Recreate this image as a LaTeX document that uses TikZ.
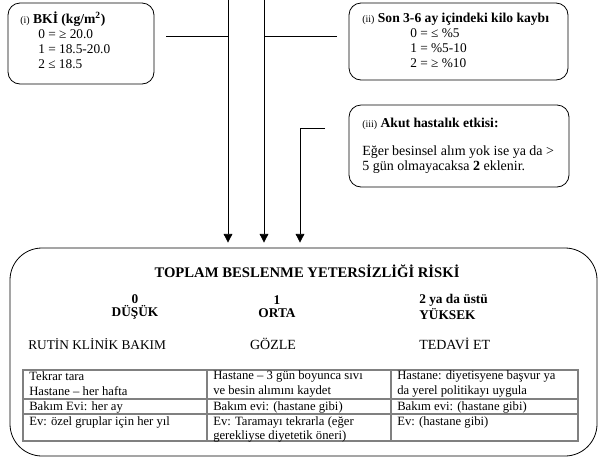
\documentclass[tikz,border=0pt]{standalone}
\usepackage{fontspec}
\setmainfont{Liberation Serif}
\usetikzlibrary{arrows.meta}
\tikzset{
  kutu/.style={draw, rounded corners=9pt, line width=0.6pt, inner sep=0pt},
  yazi/.style={anchor=west, inner sep=0.75pt, font=\fontsize{10}{10}\selectfont},
  kalin/.style={yazi, font=\fontsize{10.2}{10}\selectfont\bfseries},
  hucre/.style={yazi, font=\fontsize{9.5}{10}\selectfont},
  orta/.style={anchor=center, inner sep=0.75pt, font=\fontsize{10}{9.75}\selectfont\bfseries},
  ok/.style={line width=0.6pt, -{Triangle[width=6.5pt,length=6.5pt]}, shorten >=3.75pt},
  cizgi/.style={line width=0.6pt},
  tablo/.style={draw=gray, line width=0.8pt}
}
\newcommand{\rakam}[1]{{\fontsize{7.5}{8}\selectfont\mdseries(#1)}}

\begin{document}
\begin{tikzpicture}[x=0.75pt,y=0.75pt,yscale=-1,xscale=1]
\useasboundingbox (0,0) rectangle (599,458);

%Rounded Rect [BKI]
\node (bki) [kutu, minimum width=109.5pt, minimum height=60.75pt] at (81,43.5) {};
%Rounded Rect [kilo kaybi]
\node (kilo) [kutu, minimum width=164.25pt, minimum height=57.75pt] at (458.5,41.5) {};
%Rounded Rect [akut hastalik]
\node (akut) [kutu, minimum width=165pt, minimum height=61.5pt] at (459,146) {};
%Rounded Rect [toplam risk]
\node (risk) [kutu, rounded corners=24pt, minimum width=440.25pt, minimum height=156pt] at (303.5,352) {};

%Straight Lines
\coordinate (bkitop) at (228,0);
\coordinate (kilotop) at (264,0);
\coordinate (bkiend) at (166,36);
\coordinate (kiloend) at (337,36);
\coordinate (akutend) at (325,128);
\coordinate (akutkose) at (300,128);
\draw [cizgi] (bkiend) -- (bkiend -| bkitop) ;
\draw [cizgi] (kiloend) -- (kiloend -| kilotop) ;
\draw [ok] (bkitop) -- (bkitop |- risk.north) ;
\draw [ok] (kilotop) -- (kilotop |- risk.north) ;
\draw [ok] (akutend) -- (akutkose) -- (akutkose |- risk.north) ;

% Text Node
\node (bkibas) [kalin] at (19,19) {\rakam{i} BKİ (kg/m\textsuperscript{2})};
\node (bki0) [yazi] at (37,34) {0 = ≥ 20.0};
\node (bki1) [yazi] at (37,49) {1 = 18.5-20.0};
\node (bki2) [yazi] at (37,64) {2 ≤ 18.5};
% Text Node
\node (kilobas) [kalin] at (361,19) {\rakam{ii} Son 3-6 ay içindeki kilo kaybı};
\node (kilo0) [yazi] at (409,33) {0 = ≤ \%5};
\node (kilo1) [yazi] at (409,48) {1 = \%5-10};
\node (kilo2) [yazi] at (409,63) {2 = ≥ \%10};
% Text Node
\node (akutbas) [kalin] at (361,124) {\rakam{iii} Akut hastalık etkisi:};
\node (akut1) [yazi, font=\fontsize{10.5}{11}\selectfont] at (361,152) {Eğer besinsel alım yok ise ya da >};
\node (akut2) [yazi, font=\fontsize{10.5}{11}\selectfont] at (361,167) {5 gün olmayacaksa \textbf{2} eklenir.};

% Text Node
\node (riskbas) [orta, font=\fontsize{11}{11}\selectfont\bfseries] at (307,271) {TOPLAM BESLENME YETERSİZLİĞİ RİSKİ};
\node (dusuk) [orta, align=center] at (135,307) {0\\DÜŞÜK};
\node (ortak) [orta, align=center] at (277,307) {1\\ORTA};
\node (yuksek) [orta, anchor=west, align=left] at (418,307) {2 ya da üstü\\YÜKSEK};
\node (rutin) [yazi] at (27,344) {RUTİN KLİNİK BAKIM};
\node (gozle) [yazi, anchor=center, font=\fontsize{10.5}{10}\selectfont] at (273,344) {GÖZLE};
\node (tedavi) [yazi, font=\fontsize{10.5}{10}\selectfont] at (418,344) {TEDAVİ ET};

%Table
\draw [tablo] (23,370) rectangle (578,441) ;
\draw [tablo] (23,399) -- (578,399) ;
\draw [tablo] (23,414) -- (578,414) ;
\draw [tablo] (207,370) -- (207,441) ;
\draw [tablo] (391,370) -- (391,441) ;

% Text Node
\node (d1) [hucre] at (28,376) {Tekrar tara};
\node (d2) [hucre] at (28,391) {Hastane – her hafta};
\node (d3) [hucre] at (28,407) {Bakım Evi: her ay};
\node (d4) [hucre] at (28,422) {Ev: özel gruplar için her yıl};
\node (o1) [hucre] at (212,376) {Hastane – 3 gün boyunca sıvı};
\node (o2) [hucre] at (212,391) {ve besin alımını kaydet};
\node (o3) [hucre] at (212,407) {Bakım evi: (hastane gibi)};
\node (o4) [hucre] at (212,422) {Ev: Taramayı tekrarla (eğer};
\node (o5) [hucre] at (212,436) {gerekliyse diyetetik öneri)};
\node (y1) [hucre] at (396,376) {Hastane: diyetisyene başvur ya};
\node (y2) [hucre] at (396,391) {da yerel politikayı uygula};
\node (y3) [hucre] at (396,407) {Bakım evi: (hastane gibi)};
\node (y4) [hucre] at (396,422) {Ev: (hastane gibi)};

\end{tikzpicture}
\end{document}
